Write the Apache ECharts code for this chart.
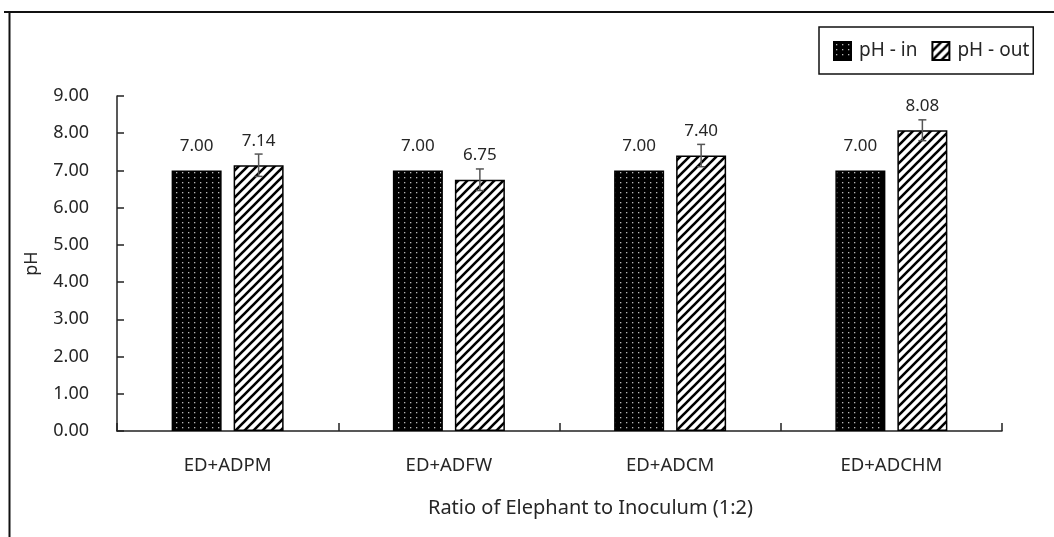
<!DOCTYPE html>
<html>
<head>
<meta charset="utf-8">
<title>pH in / out</title>
<script src="https://cdn.jsdelivr.net/npm/echarts@6/dist/echarts.min.js"></script>
<style>
  html, body { margin: 0; padding: 0; background: #ffffff; }
  #chart { width: 1054px; height: 537px; }
</style>
</head>
<body>
<div id="chart"></div>
<script>
// Substrate combinations (elephant dung + inoculum)
const categories = ['ED+ADPM', 'ED+ADFW', 'ED+ADCM', 'ED+ADCHM'];
const phIn = [7.00, 7.00, 7.00, 7.00];
const phOut = [7.14, 6.75, 7.40, 8.08];
const phOutErr = [0.30, 0.29, 0.30, 0.28];
const yTicks = { min: 0, max: 9, interval: 1 };

const FONT = '"Noto Sans", "Open Sans", sans-serif';
const TEXT = '#262626';
const BAR_W = 50;
const BAR_GAP = 12;

// Black fill sprinkled with light dots
function dotPattern() {
  const c = document.createElement('canvas');
  c.width = 6; c.height = 5;
  const g = c.getContext('2d');
  g.fillStyle = '#000';
  g.fillRect(0, 0, 6, 5);
  g.fillStyle = '#b8b8b8';
  g.fillRect(2, 2, 1.3, 1.3);
  return c;
}

// White fill with "/" diagonal stripes
function hatchPattern() {
  const s = 9;
  const c = document.createElement('canvas');
  c.width = s; c.height = s;
  const g = c.getContext('2d');
  g.fillStyle = '#fff';
  g.fillRect(0, 0, s, s);
  g.strokeStyle = '#000';
  g.lineWidth = 2.6;
  g.beginPath();
  g.moveTo(-1, s + 1); g.lineTo(s + 1, -1);
  g.moveTo(-2, 2); g.lineTo(2, -2);
  g.moveTo(s - 2, s + 2); g.lineTo(s + 2, s - 2);
  g.stroke();
  return c;
}

const chart = echarts.init(document.getElementById('chart'), null, { renderer: 'canvas' });

const labelStyle = {
  show: true,
  position: 'top',
  distance: 16,
  fontFamily: FONT,
  fontSize: 17,
  color: TEXT,
  formatter: p => p.value.toFixed(2)
};

chart.setOption({
  backgroundColor: '#ffffff',
  animation: false,
  textStyle: { fontFamily: FONT },
  grid: { left: 117, top: 96, right: 52, bottom: 106, outerBoundsMode: 'none' },
  legend: {
    data: ['pH - in', 'pH - out'],
    left: 819,
    top: 27,
    padding: [14, 4, 13, 14],
    itemGap: 14,
    itemWidth: 17,
    itemHeight: 18,
    icon: 'rect',
    borderColor: '#111',
    borderWidth: 1.5,
    borderRadius: 0,
    textStyle: { fontFamily: FONT, fontSize: 19, color: TEXT, padding: [0, 0, 0, 3] }
  },
  xAxis: {
    type: 'category',
    data: categories,
    name: 'Ratio of Elephant to Inoculum (1:2)',
    nameLocation: 'middle',
    nameGap: 67,
    nameTextStyle: { fontFamily: FONT, fontSize: 20, color: TEXT, padding: [0, 0, 0, 62] },
    axisLine: { show: true, lineStyle: { color: '#222', width: 1.5 } },
    axisTick: { show: true, inside: true, length: 8, interval: 0, lineStyle: { color: '#222', width: 1.5 } },
    axisLabel: { margin: 25, fontFamily: FONT, fontSize: 18.5, color: TEXT, interval: 0 },
    splitLine: { show: false }
  },
  yAxis: {
    type: 'value',
    min: yTicks.min,
    max: yTicks.max,
    interval: yTicks.interval,
    name: 'pH',
    nameLocation: 'middle',
    nameRotate: 90,
    nameGap: 76,
    nameTextStyle: { fontFamily: FONT, fontSize: 18, color: TEXT },
    axisLine: { show: true, lineStyle: { color: '#222', width: 1.5 } },
    axisTick: { show: true, inside: true, length: 7, lineStyle: { color: '#222', width: 1.5 } },
    axisLabel: { margin: 28, fontFamily: FONT, fontSize: 18, color: TEXT, formatter: v => v.toFixed(2) },
    splitLine: { show: false }
  },
  series: [
    {
      name: 'pH - in',
      type: 'bar',
      data: phIn,
      barWidth: BAR_W,
      barGap: (BAR_GAP / BAR_W * 100) + '%',
      itemStyle: { color: { image: dotPattern(), repeat: 'repeat' }, borderColor: '#000', borderWidth: 1.5 },
      label: labelStyle
    },
    {
      name: 'pH - out',
      type: 'bar',
      data: phOut,
      barWidth: BAR_W,
      itemStyle: { color: { image: hatchPattern(), repeat: 'repeat' }, borderColor: '#000', borderWidth: 1.5 },
      label: labelStyle
    },
    {
      // error bars drawn over the "pH - out" bars
      name: 'pH - out error',
      type: 'custom',
      z: 5,
      silent: true,
      data: phOut.map((v, i) => [i, v, phOutErr[i]]),
      renderItem: (params, api) => {
        const idx = api.value(0);
        const v = api.value(1);
        const e = api.value(2);
        const hi = api.coord([idx, v + e]);
        const lo = api.coord([idx, v - e]);
        const x = hi[0] + (BAR_W + BAR_GAP) / 2;
        const cap = 4;
        const style = { stroke: '#555', lineWidth: 1.5 };
        return {
          type: 'group',
          children: [
            { type: 'line', shape: { x1: x, y1: hi[1], x2: x, y2: lo[1] }, style },
            { type: 'line', shape: { x1: x - cap, y1: hi[1], x2: x + cap, y2: hi[1] }, style },
            { type: 'line', shape: { x1: x - cap, y1: lo[1], x2: x + cap, y2: lo[1] }, style }
          ]
        };
      }
    }
  ],
  graphic: [
    // frame around the figure (top and left edges)
    { type: 'line', shape: { x1: 4, y1: 12, x2: 1054, y2: 12 }, style: { stroke: '#111', lineWidth: 2 } },
    { type: 'line', shape: { x1: 9.5, y1: 12, x2: 9.5, y2: 537 }, style: { stroke: '#111', lineWidth: 2 } }
  ]
});
</script>
</body>
</html>
